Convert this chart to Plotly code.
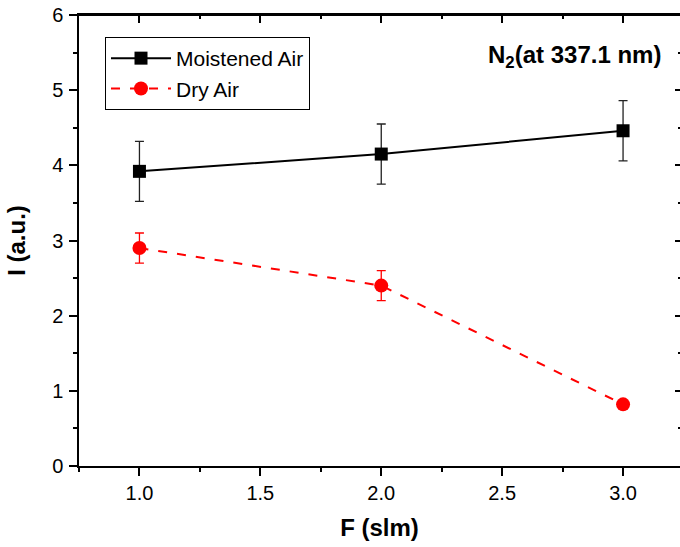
import plotly.graph_objects as go

flow = [1.0, 2.0, 3.0]
moist_vals = [3.92, 4.15, 4.46]
moist_err = [0.40, 0.40, 0.40]
dry_vals = [2.90, 2.40, 0.82]
dry_err = [0.20, 0.20, 0.05]

x_ticks = [1.0, 1.5, 2.0, 2.5, 3.0]
x_tick_labels = ["1.0", "1.5", "2.0", "2.5", "3.0"]
y_ticks = [0, 1, 2, 3, 4, 5, 6]

FONT = "Liberation Sans, Arial, sans-serif"

W, H = 680, 547
ML, MT, MB, MR = 79, 15, 81, 0
PW = W - ML - MR
PH = H - MT - MB

fig = go.Figure()
fig.add_trace(go.Scatter(
    x=flow, y=moist_vals, name="Moistened Air", mode="lines+markers",
    line=dict(color="black", width=2),
    marker=dict(symbol="square", size=13, color="black"),
    error_y=dict(type="data", array=moist_err, color="#222222", thickness=1.3, width=4.5),
))
fig.add_trace(go.Scatter(
    x=flow, y=dry_vals, name="Dry Air", mode="lines+markers",
    line=dict(color="#ff0000", width=2, dash="9px,10px"),
    marker=dict(symbol="circle", size=14, color="#ff0000"),
    error_y=dict(type="data", array=dry_err, color="#ff0000", thickness=1.3, width=4.5),
))
# invisible trace to carry the mirrored (top/right) axes
fig.add_trace(go.Scatter(x=flow, y=moist_vals, xaxis="x2", yaxis="y2",
                         mode="markers", marker=dict(opacity=0), showlegend=False, hoverinfo="skip"))

xr = [0.75, 3.2355]
yr = [0, 6]
fig.update_layout(
    width=W, height=H,
    margin=dict(l=ML, r=MR, t=MT, b=MB, pad=0),
    plot_bgcolor="white", paper_bgcolor="white",
    font=dict(family=FONT, size=20, color="black"),
    showlegend=True,
    legend=dict(x=(105 - ML) / PW, y=(H - MB - 37) / PH, xanchor="left", yanchor="top",
                bgcolor="white", bordercolor="black", borderwidth=1,
                font=dict(size=21, family=FONT), tracegroupgap=0, itemwidth=60),
    xaxis=dict(range=xr, tickvals=x_ticks, ticktext=x_tick_labels,
               showline=True, linecolor="black", linewidth=1.5,
               ticks="outside", ticklen=8, tickwidth=1.5, tickcolor="black",
               minor=dict(dtick=0.25, tick0=0.75, ticks="outside", ticklen=4, tickwidth=1.5, tickcolor="black"),
               showgrid=False, zeroline=False, ticklabeloverflow="allow",
               title=dict(text="<b>F (slm)</b>", font=dict(size=24, family=FONT), standoff=16),
               tickfont=dict(size=20, family=FONT)),
    yaxis=dict(range=yr, tickvals=y_ticks,
               showline=True, linecolor="black", linewidth=1.5,
               ticks="outside", ticklen=8, tickwidth=1.5, tickcolor="black",
               minor=dict(dtick=0.5, ticks="outside", ticklen=4, tickwidth=1.5, tickcolor="black"),
               showgrid=False, zeroline=False, ticklabelstandoff=2, ticklabeloverflow="allow",
               title=dict(text="<b>I (a.u.)</b>", font=dict(size=24, family=FONT), standoff=20),
               tickfont=dict(size=20, family=FONT)),
    xaxis2=dict(range=xr, overlaying="x", side="top", anchor="y",
                tickvals=x_ticks, showticklabels=False,
                showline=True, linecolor="black", linewidth=2,
                ticks="inside", ticklen=8, tickwidth=1.5, tickcolor="black",
                minor=dict(dtick=0.25, tick0=0.75, ticks="inside", ticklen=4, tickwidth=1.5, tickcolor="black"),
                showgrid=False, zeroline=False),
    yaxis2=dict(range=yr, overlaying="y", side="right", anchor="x",
                tickvals=y_ticks, showticklabels=False, showline=False,
                ticks="inside", ticklen=5, tickwidth=1.5, tickcolor="black",
                minor=dict(dtick=0.5, ticks="inside", ticklen=2, tickwidth=1.5, tickcolor="black"),
                showgrid=False, zeroline=False),
    shapes=[dict(type="line", xref="paper", yref="paper", x0=0, x1=1, y0=1, y1=1,
                 line=dict(color="black", width=2), layer="above")],
    annotations=[dict(text="<b>N<sub>2</sub>(at 337.1 nm)</b>", xref="paper", yref="paper",
                      x=(663 - ML) / PW, y=(H - MB - 56) / PH, xanchor="right", yanchor="middle",
                      showarrow=False, font=dict(size=24, family=FONT))],
)

fig.write_html("out.html", config={"displayModeBar": False},
               post_script="document.body.style.margin='0px';document.body.style.overflow='hidden';")
